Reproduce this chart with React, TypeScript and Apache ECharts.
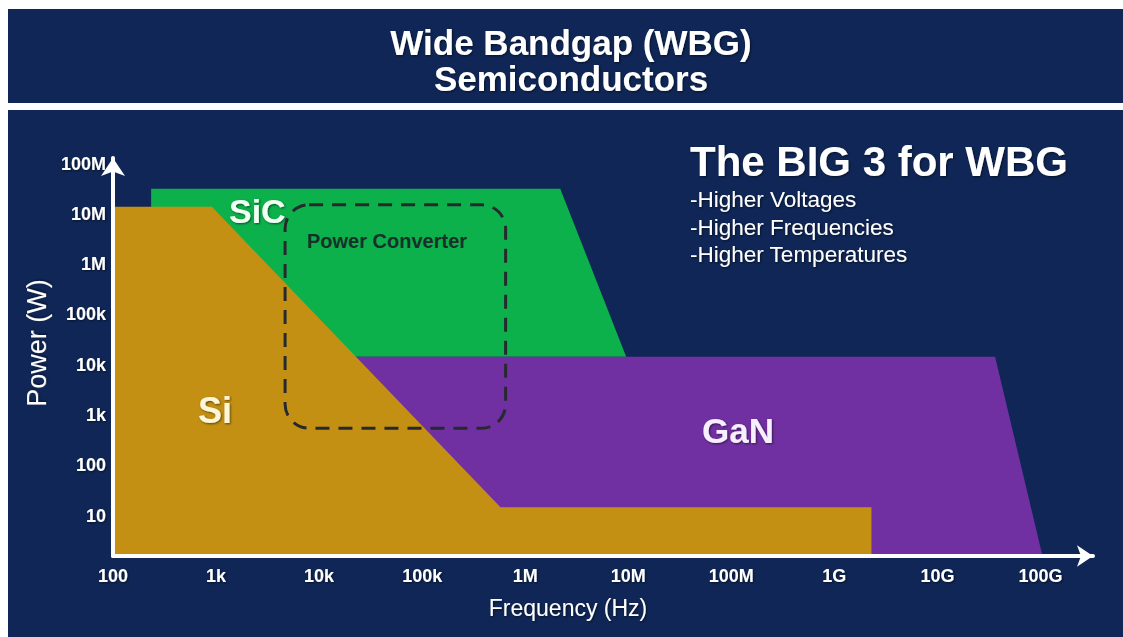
import React, { useEffect, useRef } from "react";
import * as echarts from "echarts";

// Axis ticks (log10 values) and their labels
const X_TICKS = [2, 3, 4, 5, 6, 7, 8, 9, 10, 11];
const X_LABELS = ["100", "1k", "10k", "100k", "1M", "10M", "100M", "1G", "10G", "100G"];
const Y_TICKS = [1, 2, 3, 4, 5, 6, 7, 8];
const Y_LABELS = ["10", "100", "1k", "10k", "100k", "1M", "10M", "100M"];

// Regions as [log10(frequency Hz), log10(power W)]
const SI_REGION = [
  [2, 7.14],
  [2.96, 7.14],
  [5.76, 1.17],
  [9.36, 1.17],
  [9.36, 0.2],
  [2, 0.2],
];
const SIC_REGION = [
  [2.37, 7.5],
  [6.34, 7.5],
  [6.98, 4.16],
  [2.37, 4.16],
];
const GAN_REGION = [
  [4.0, 4.16],
  [10.56, 4.16],
  [11.02, 0.2],
  [4.0, 0.2],
];
// Power converter box: [xMin, xMax, yMin, yMax] (log10)
const CONVERTER_BOX = [[3.67, 5.81, 2.74, 7.18]];

const BULLETS = ["-Higher Voltages", "-Higher Frequencies", "-Higher Temperatures"];

const NAVY = "#0f2656";
const GOLD = "#c39013";
const GREEN = "#0cb14b";
const PURPLE = "#7130a1";
const FONT = "'Liberation Sans', Arial, sans-serif";

const shadow = {
  textShadowColor: "rgba(0,0,0,0.55)",
  textShadowBlur: 2,
  textShadowOffsetX: 1,
  textShadowOffsetY: 1,
};

function polyRender(points: number[][], color: string) {
  return (params: any, api: any) => {
    if (params.dataIndex !== 0) return null;
    return {
      type: "polygon",
      shape: { points: points.map((p) => api.coord(p)) },
      style: { fill: color },
    };
  };
}

export default function App() {
  const ref = useRef<HTMLDivElement>(null);
  useEffect(() => {
    if (!ref.current) return;
    const chart = echarts.init(ref.current, null, { renderer: "svg" });
    const option: any = {
      animation: false,
      backgroundColor: "#ffffff",
      title: {
        text: "Wide Bandgap (WBG)\nSemiconductors",
        left: 566,
        top: 19,
        textAlign: "center",
        textStyle: {
          color: "#ffffff",
          fontFamily: FONT,
          fontWeight: "bold",
          fontSize: 35,
          lineHeight: 36,
          ...shadow,
        },
      },
      graphic: [
        { type: "rect", z: -10, shape: { x: 8, y: 9, width: 1115, height: 94 }, style: { fill: NAVY } },
        { type: "rect", z: -10, shape: { x: 8, y: 110, width: 1115, height: 527 }, style: { fill: NAVY } },
        {
          type: "text", z: 100, left: 690, top: 140,
          style: { text: "The BIG 3 for WBG", fill: "#ffffff", font: `bold 42px ${FONT}`, ...shadow },
        },
        ...BULLETS.map((b, i) => ({
          type: "text", z: 100, left: 690, top: 188 + i * 27.5,
          style: { text: b, fill: "#ffffff", font: `22.5px ${FONT}`, ...shadow },
        })),
        {
          type: "text", z: 100, left: 229, top: 194,
          style: { text: "SiC", fill: "#f2fff4", font: `bold 34px ${FONT}`, ...shadow },
        },
        {
          type: "text", z: 100, left: 198, top: 392,
          style: { text: "Si", fill: "#fff5d8", font: `bold 36px ${FONT}`, ...shadow },
        },
        {
          type: "text", z: 100, left: 702, top: 413,
          style: { text: "GaN", fill: "#f6efff", font: `bold 35px ${FONT}`, ...shadow },
        },
        {
          type: "text", z: 100, left: 307, top: 231,
          style: { text: "Power Converter", fill: "#17302a", font: `bold 20px ${FONT}` },
        },
      ],
      grid: { left: 113, top: 158, right: 30, bottom: 81, containLabel: false },
      xAxis: {
        type: "value",
        min: 2,
        max: 11.51,
        z: 10,
        name: "Frequency (Hz)",
        nameLocation: "middle",
        nameGap: 40,
        nameTextStyle: {
          color: "#ffffff", fontFamily: FONT, fontSize: 23, padding: [0, 70, 0, 0], ...shadow,
        },
        axisLine: {
          show: true,
          symbol: ["none", "arrow"],
          symbolSize: [16, 16],
          lineStyle: { color: "#ffffff", width: 4 },
        },
        axisTick: { show: false },
        splitLine: { show: false },
        axisLabel: {
          customValues: X_TICKS,
          margin: 11,
          color: "#ffffff",
          fontFamily: FONT,
          fontWeight: "bold",
          fontSize: 18,
          formatter: (v: number) => X_LABELS[X_TICKS.indexOf(Math.round(v))] ?? "",
          ...shadow,
        },
      },
      yAxis: {
        type: "value",
        min: 0.2,
        max: 8.11,
        z: 10,
        name: "Power (W)",
        nameLocation: "middle",
        nameGap: 57,
        nameRotate: 90,
        nameTextStyle: {
          color: "#ffffff", fontFamily: FONT, fontSize: 27, padding: [0, 0, 0, 28], ...shadow,
        },
        axisLine: {
          show: true,
          symbol: ["none", "arrow"],
          symbolSize: [18, 18],
          lineStyle: { color: "#ffffff", width: 4 },
        },
        axisTick: { show: false },
        splitLine: { show: false },
        axisLabel: {
          customValues: Y_TICKS,
          margin: 7,
          color: "#ffffff",
          fontFamily: FONT,
          fontWeight: "bold",
          fontSize: 18,
          formatter: (v: number) => Y_LABELS[Y_TICKS.indexOf(Math.round(v))] ?? "",
          ...shadow,
        },
      },
      series: [
        { type: "custom", z: 2, silent: true, data: SIC_REGION, renderItem: polyRender(SIC_REGION, GREEN) },
        { type: "custom", z: 3, silent: true, data: GAN_REGION, renderItem: polyRender(GAN_REGION, PURPLE) },
        { type: "custom", z: 4, silent: true, data: SI_REGION, renderItem: polyRender(SI_REGION, GOLD) },
        {
          type: "custom",
          z: 5,
          silent: true,
          data: CONVERTER_BOX,
          renderItem: (params: any, api: any) => {
            const p1 = api.coord([api.value(0), api.value(3)]);
            const p2 = api.coord([api.value(1), api.value(2)]);
            return {
              type: "rect",
              shape: { x: p1[0], y: p1[1], width: p2[0] - p1[0], height: p2[1] - p1[1], r: 24 },
              style: { fill: "none", stroke: "#262a2e", lineWidth: 3, lineDash: [14, 9] },
            };
          },
        },
      ],
    };
    chart.setOption(option);
    return () => chart.dispose();
  }, []);
  return (
    <div
      ref={ref}
      style={{ position: "absolute", left: 0, top: 0, width: 1123, height: 637 }}
    />
  );
}
